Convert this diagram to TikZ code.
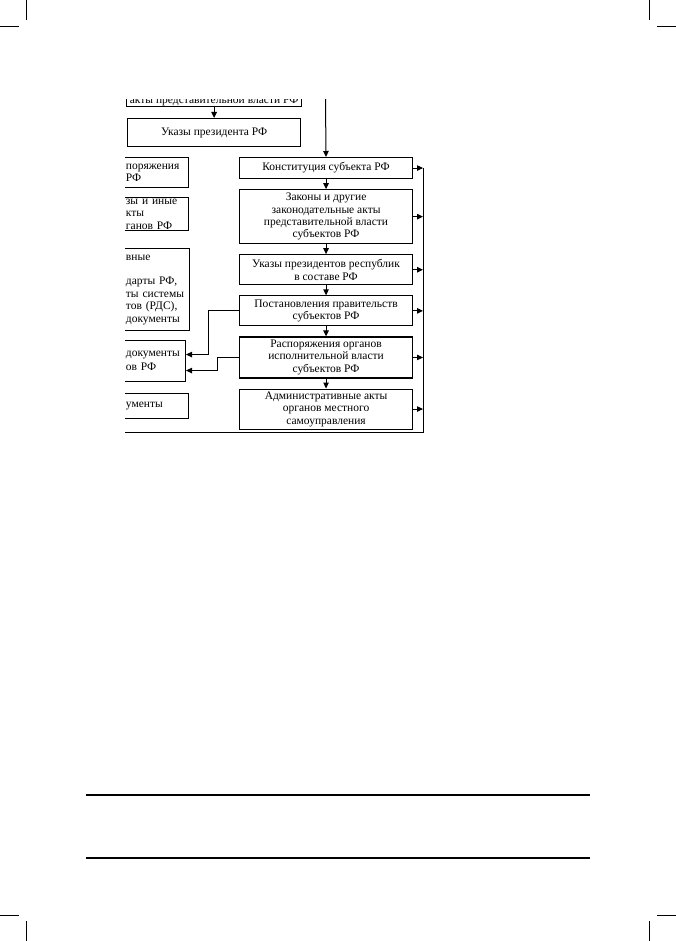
\documentclass[tikz,border=0pt]{standalone}
\usepackage{fontspec}
\setmainfont{Liberation Serif}
\usetikzlibrary{arrows.meta, positioning}

\begin{document}
\begin{tikzpicture} [x = 1pt, y = -1pt, node distance = 10pt,
        font = \fontsize{11.5}{12.4}\selectfont,
        mainbox/.style = {draw, line width = 1.1pt, minimum width = 173pt, align = center, inner sep = 1pt},
        topbox/.style = {draw, line width = 1.1pt, minimum width = 173pt, align = center},
        sidebox/.style = {draw, line width = 1.1pt, align = left, inner xsep = 3pt, inner ysep = 0pt, anchor = north east},
        arr/.style = {-{Triangle[length = 6pt, width = 5.5pt]}, line width = 1pt},
        rule/.style = {line width = 2.7pt},
        crop/.style = {line width = 0.6pt}]
        \useasboundingbox (0,0) rectangle (676,941);

        % crop marks and page rules
        \draw [crop] (26.5,0) -- (26.5,20) (0,26) -- (19,26);
        \draw [crop] (649.5,0) -- (649.5,20) (657,26) -- (676,26);
        \draw [crop] (26.5,921) -- (26.5,941) (0,915) -- (19,915);
        \draw [crop] (649.5,921) -- (649.5,941) (657,915) -- (676,915);
        \draw [rule] (86,795) -- (590,795);
        \draw [rule] (86,858) -- (590,858);

        \begin{scope}
        \clip (125,100) rectangle (440,445);

        % left column
        \node (aktypred) [topbox, anchor = south west, inner ysep = 1pt, text height = 10pt, text depth = 2pt] at (126,107) {акты представительной власти РФ};
        \node (ukazprez) [topbox, minimum height = 28pt, below = 11pt of aktypred] {Указы президента РФ};
        \node (lrasp) [sidebox, text width = 59.5pt, minimum height = 30pt] at (189,157) {поряжения\\РФ};
        \node (lprik) [sidebox, text width = 59.5pt, minimum height = 33pt] at (189,197) {зы и иные\\кты\\ганов РФ};
        \node (lnorm) [sidebox, text width = 60.5pt, minimum height = 82pt] at (190,248) {вные\\ \mbox{}\\ дарты РФ,\\ты системы\\тов (РДС),\\документы};
        \node (ldoc) [sidebox, text width = 56.5pt, minimum height = 41pt] at (186,340) {документы\\[2pt]ов РФ};
        \node (lproch) [sidebox, text width = 59.5pt, minimum height = 25pt] at (189,393) {ументы};

        % right column
        \node (konst) [mainbox, minimum height = 21pt, anchor = north west] at (239,157) {Конституция субъекта РФ};
        \node (zakony) [mainbox, minimum height = 54pt, below = of konst] {Законы и другие\\законодательные акты\\представительной власти\\субъектов РФ};
        \node (ukazy) [mainbox, minimum height = 30pt, below = of zakony] {Указы президентов республик\\в составе РФ};
        \node (postan) [mainbox, minimum height = 30pt, below = of ukazy] {Постановления правительств\\субъектов РФ};
        \node (rasp) [mainbox, minimum height = 41pt, below = of postan] {Распоряжения органов\\исполнительной власти\\субъектов РФ};
        \node (admin) [mainbox, minimum height = 40pt, below = of rasp] {Административные акты\\органов местного\\самоуправления};

        \coordinate (topin) at (325.5,95);
        \coordinate (rcorner) at (423,432);
        \coordinate (bend) at (110,432);

        \path [arr] (aktypred) edge (ukazprez);
        \path [arr] (topin) edge (konst);
        \foreach \a/\b in {konst/zakony, zakony/ukazy, ukazy/postan, postan/rasp, rasp/admin}
            \path [arr] (\a) edge (\b);
        \foreach \n in {konst, zakony, ukazy, postan, rasp, admin}
            \path [arr] (\n.east) edge (\n.east -| rcorner);
        \draw [line width = 1pt] (konst.east -| rcorner) -- (rcorner) -- (bend);

        \draw [arr] (postan.west) -- ++(-31,0) |- ([yshift = 6.5pt]ldoc.east);
        \draw [arr] (rasp.west) -- ++(-22,0) |- ([yshift = -9.5pt]ldoc.east);
        \end{scope}
    \end{tikzpicture}
\end{document}
